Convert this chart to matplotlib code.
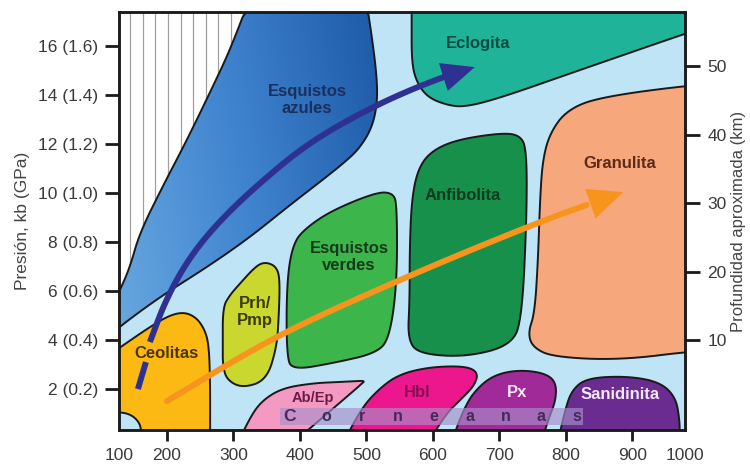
import numpy as np
import matplotlib
matplotlib.use("Agg")
import matplotlib.pyplot as plt
from matplotlib.patches import Polygon, Rectangle
from matplotlib.colors import LinearSegmentedColormap

plt.rcParams['font.family'] = ['Liberation Sans', 'DejaVu Sans']

# Límites del diagrama: temperatura (°C) y presión (kb)
t_min, t_max = 128, 979
p_min, p_max = 0.33, 17.39

temp_ticks = [200, 300, 400, 500, 600, 700, 800, 900]
temp_labels = ['100'] + [str(t) for t in temp_ticks] + ['1000']
pres_ticks = [2, 4, 6, 8, 10, 12, 14, 16]
pres_labels = ['2 (0.2)', '4 (0.4)', '6 (0.6)', '8 (0.8)', '10 (1.0)',
               '12 (1.2)', '14 (1.4)', '16 (1.6)']
prof_ticks = [10, 20, 30, 40, 50]
km_por_kb, km_desfase = 3.577, -4.31

# Contornos de las facies (T en °C, P en kb)
azules_izq_t = [116, 128, 144, 159, 194, 230, 265, 295, 328]
azules_izq_p = [5.3, 5.96, 6.94, 8.37, 10.29, 12.16, 14.12, 15.84, 18.2]
azules_der_t = [498, 510, 516, 516, 508, 490, 468, 430, 385, 325, 265, 189.5, 128, 116]
azules_der_p = [18.2, 16.04, 14.61, 13.59, 12.65, 11.84, 11.27, 10.45, 9.51, 8.20, 7.06, 5.76, 4.53, 4.2]

eclogita_t = [568, 568, 568, 574, 591, 621, 648, 701, 821, 1000, 1080, 1080]
eclogita_p = [18.5, 17.0, 15.43, 14.61, 13.92, 13.59, 13.51, 13.88, 15.02, 16.7, 17.4, 19.5]

granulita_t = [1080, 1000, 851, 801.5, 776, 765, 761, 758, 753, 743, 750, 780, 881, 1000, 1080]
granulita_p = [14.5, 14.45, 13.92, 13.39, 12.45, 11.35, 9.71, 7.27, 5.10, 4.29, 3.71, 3.31, 3.18, 3.58, 3.6]

anfibolita_t = [565, 565, 568, 577, 595.5, 633, 701, 731, 741, 741, 734, 719, 651, 580, 562]
anfibolita_p = [5.63, 7.67, 9.71, 10.94, 11.67, 12.16, 12.45, 12.37, 11.76, 9.02, 4.94, 3.80, 3.31, 3.43, 4.00]

verdes_t = [380, 380, 389.5, 410.5, 449.6, 515.8, 540, 546, 546, 535, 516, 450, 389.5]
verdes_p = [3.31, 6.33, 7.96, 8.61, 9.31, 10.04, 10.0, 9.51, 6.33, 4.12, 3.47, 3.06, 2.78]

prh_t = [284, 284, 295, 305, 335, 350, 365, 370, 368, 365, 350, 314, 290, 284]
prh_p = [3.71, 5.35, 5.84, 6.16, 7.06, 7.18, 6.98, 6.45, 4.82, 3.71, 2.37, 2.04, 2.37, 2.98]

ceolitas_t = [110, 128, 174, 204.5, 227, 245, 257, 263, 265, 265, 265, 162, 162, 156, 144, 128, 110]
ceolitas_p = [3.33, 3.67, 4.53, 5.02, 5.14, 4.90, 4.41, 3.80, 2.37, 0.5, -1.0, -1.0, 0.37, 0.73, 0.98, 1.06, 1.06]

abep_t = [293, 325, 344, 374, 420, 460, 482, 498, 492, 484, 355]
abep_p = [-1.0, 0.86, 1.55, 2.04, 2.24, 2.29, 2.32, 2.34, 2.2, 2.0, -1.0]

hbl_t = [451, 490, 520, 550, 595.5, 648, 668, 663, 641, 618, 575]
hbl_p = [-1.0, 1.14, 2.04, 2.61, 2.90, 2.94, 2.69, 2.16, 1.55, 0.94, -1.0]

px_t = [617, 648, 671, 696, 731, 768, 785, 785, 773, 754]
px_p = [-1.0, 1.35, 2.16, 2.61, 2.78, 2.65, 2.29, 1.55, 0.73, -1.0]

sanid_t = [781, 798.5, 809, 831.6, 891.7, 941, 965, 971, 971, 971]
sanid_p = [-1.0, 1.14, 1.96, 2.45, 2.53, 2.29, 1.67, 0.73, 0.0, -1.0]

# Trayectorias P-T (el primer tramo azul es discontinuo)
azul_tramo_t = [156.4, 168.4]
azul_tramo_p = [2.0, 3.10]
azul_t = [174.4, 200, 239, 294.7, 374.4, 419.5, 464.7, 515.8, 565.4, 615, 663]
azul_p = [3.92, 5.76, 7.59, 9.31, 11.22, 12.12, 12.86, 13.59, 14.20, 14.73, 15.14]
naranja_t = [200, 325, 415, 550, 656, 776, 886]
naranja_p = [1.51, 3.55, 4.82, 6.45, 7.67, 8.98, 10.04]

# Banda de corneanas
corneanas_t = (370, 826)
corneanas_p = (0.53, 1.22)
corneanas_letras = list('Corneanas')


def suavizar(t, p, n=3, cerrado=True):
    pts = np.column_stack([t, p]).astype(float)
    for _ in range(n):
        if cerrado:
            a, b = pts, np.roll(pts, -1, axis=0)
        else:
            a, b = pts[:-1], pts[1:]
        q = 0.75 * a + 0.25 * b
        r = 0.25 * a + 0.75 * b
        mid = np.empty((2 * len(q), 2))
        mid[0::2] = q
        mid[1::2] = r
        pts = mid if cerrado else np.vstack([pts[:1], mid, pts[-1:]])
    return pts


fig = plt.figure(figsize=(7.5, 4.66), dpi=100)
ax = fig.add_axes([0.1587, 0.0773, 0.7546, 0.8970])
ax.set_facecolor('#bfe4f6')

# Zona rayada (gradientes geotérmicos imposibles)
rayado_pts = suavizar(azules_izq_t + [0, 0], azules_izq_p + [20, 5.3])
rayado = Polygon(rayado_pts, closed=True, facecolor='white', edgecolor='none', zorder=1)
ax.add_patch(rayado)
lineas = ax.vlines(np.arange(145, 340, 18.9), -1, 19, colors='#a0a0a0', lw=0.9, zorder=1.1)
lineas.set_clip_path(rayado)

# Esquistos azules con degradado
azules_pts = suavizar(azules_izq_t + azules_der_t, azules_izq_p + azules_der_p)
azules = Polygon(azules_pts, closed=True, facecolor='none', edgecolor='#1a1a1a',
                 lw=1.4, joinstyle='round', zorder=2.1)
ax.add_patch(azules)
cmap_az = LinearSegmentedColormap.from_list('az', ['#6aaae0', '#3f83cf', '#1c58a6'])
gx, gy = np.meshgrid(np.linspace(0, 1, 200), np.linspace(0, 1, 200))
grad = 0.8 * gx + 0.2 * gy
im = ax.imshow(grad, extent=[110, 520, 4.0, 18.5], origin='lower', cmap=cmap_az,
               aspect='auto', zorder=2)
im.set_clip_path(azules)

facies = [
    (eclogita_t, eclogita_p, '#1fb39a'),
    (granulita_t, granulita_p, '#f7a77c'),
    (anfibolita_t, anfibolita_p, '#16904a'),
    (verdes_t, verdes_p, '#3cb54a'),
    (prh_t, prh_p, '#c9d72f'),
    (ceolitas_t, ceolitas_p, '#fdb913'),
    (abep_t, abep_p, '#f49ac2'),
    (hbl_t, hbl_p, '#ec178c'),
    (px_t, px_p, '#9f2a98'),
    (sanid_t, sanid_p, '#6b2c91'),
]
for t, p, color in facies:
    ax.add_patch(Polygon(suavizar(t, p), closed=True, facecolor=color,
                         edgecolor='#1a1a1a', lw=1.4, joinstyle='round', zorder=2))

# Corneanas
ax.add_patch(Rectangle((corneanas_t[0], corneanas_p[0]), corneanas_t[1] - corneanas_t[0],
                       corneanas_p[1] - corneanas_p[0], facecolor='#a98fcb',
                       edgecolor='none', alpha=0.65, zorder=3))
for x, letra in zip(np.linspace(385, 817, len(corneanas_letras)), corneanas_letras):
    ax.text(x, 0.9, letra, ha='center', va='center', fontsize=12.5 if letra == 'C' else 11.5,
            fontweight='bold', color='#46285a', zorder=3.5)

# Trayectoria azul (alta presión)
azul = '#2e3192'
ax.plot(azul_tramo_t, azul_tramo_p, color=azul, lw=4.3, solid_capstyle='butt', zorder=4)
linea_az = suavizar(azul_t[:-1] + [azul_t[-1] - 0.4 * (azul_t[-1] - azul_t[-2])],
                    azul_p[:-1] + [azul_p[-1] - 0.4 * (azul_p[-1] - azul_p[-2])],
                    cerrado=False)
ax.plot(linea_az[:, 0], linea_az[:, 1], color=azul, lw=4.3, solid_capstyle='butt', zorder=4)
ax.annotate('', xy=(azul_t[-1], azul_p[-1]), xytext=(azul_t[-2], azul_p[-2]),
            arrowprops=dict(arrowstyle='-|>,head_length=0.95,head_width=0.42',
                            mutation_scale=25, color=azul, lw=0,
                            shrinkA=0, shrinkB=0), zorder=4)

# Trayectoria naranja (alta temperatura)
naranja = '#f7941d'
linea_na = suavizar(naranja_t[:-1] + [naranja_t[-1] - 0.5 * (naranja_t[-1] - naranja_t[-2])],
                    naranja_p[:-1] + [naranja_p[-1] - 0.5 * (naranja_p[-1] - naranja_p[-2])],
                    cerrado=False)
ax.plot(linea_na[:, 0], linea_na[:, 1], color=naranja, lw=4.3, solid_capstyle='round', zorder=4)
ax.annotate('', xy=(naranja_t[-1], naranja_p[-1]), xytext=(naranja_t[-2], naranja_p[-2]),
            arrowprops=dict(arrowstyle='-|>,head_length=1.0,head_width=0.45',
                            mutation_scale=25, color=naranja, lw=0,
                            shrinkA=0, shrinkB=0), zorder=4)

# Nombres de las facies
etiquetas = [
    (410.5, 13.80, 'Esquistos\nazules', '#1b2f5e'),
    (668, 16.12, 'Eclogita', '#0d4a40'),
    (881, 11.22, 'Granulita', '#5b2b17'),
    (645, 9.92, 'Anfibolita', '#0b3b1e'),
    (474, 7.39, 'Esquistos\nverdes', '#143a1a'),
    (332, 5.14, 'Prh/\nPmp', '#3b3a08'),
    (200, 3.47, 'Ceolitas', '#4d3300'),
    (576, 1.88, 'Hbl', '#8c0d55'),
    (726, 1.88, 'Px', '#f6e6f3'),
    (881, 1.76, 'Sanidinita', '#f3e6f5'),
]
for x, y, txt, c in etiquetas:
    ax.text(x, y, txt, ha='center', va='center', fontsize=12, fontweight='bold',
            color=c, linespacing=1.2, zorder=5)
ax.text(420, 1.63, 'Ab/Ep', ha='center', va='center', fontsize=10.5,
        fontweight='bold', color='#6b1c45', zorder=5)

ax.set_xlim(t_min, t_max)
ax.set_ylim(p_min, p_max)
ax.set_xticks([t_min] + temp_ticks + [t_max], temp_labels)
ax.set_yticks(pres_ticks, pres_labels)
xt = ax.xaxis.get_major_ticks()
xt[0].tick1line.set_visible(False)
xt[-1].tick1line.set_visible(False)
ax.tick_params(axis='x', length=8, width=2, pad=5, labelsize=12.5,
               color='#1a1a1a', labelcolor='#3a3a3a')
ax.tick_params(axis='y', length=10, width=2, pad=5, labelsize=12.5,
               color='#1a1a1a', labelcolor='#3a3a3a')
ax.set_ylabel('Presión, kb (GPa)', fontsize=12.5, color='#444444', labelpad=6)

ax2 = ax.twinx()
ax2.set_ylim(km_por_kb * p_min + km_desfase, km_por_kb * p_max + km_desfase)
ax2.set_yticks(prof_ticks)
ax2.tick_params(axis='y', length=11, width=2, pad=5, labelsize=12.5,
                color='#1a1a1a', labelcolor='#3a3a3a')
ax2.set_ylabel('Profundidad aproximada (km)', fontsize=12, color='#444444',
               rotation=90, labelpad=3)

for a in (ax, ax2):
    for s in a.spines.values():
        s.set_linewidth(1.8)
        s.set_color('#1a1a1a')
        s.set_zorder(6)

fig.savefig('out.png', dpi=100, facecolor='white')
